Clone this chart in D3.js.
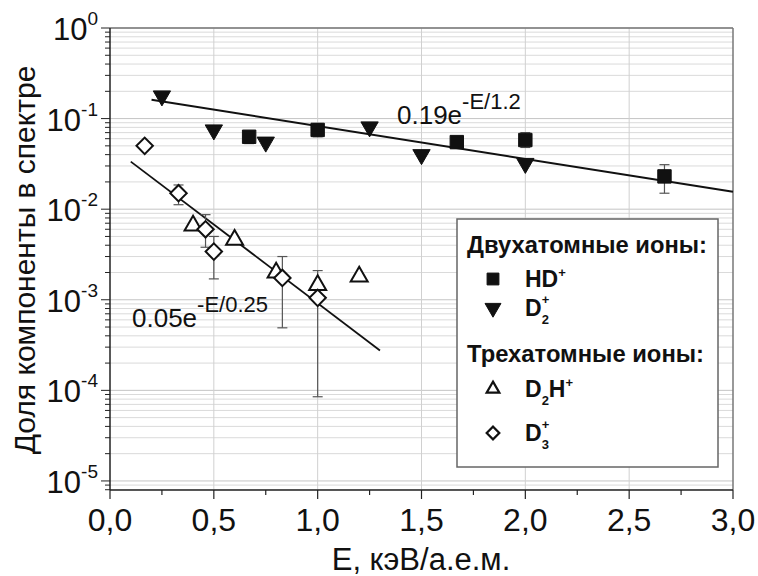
<!DOCTYPE html>
<html>
<head>
<meta charset="utf-8">
<script src="https://cdn.jsdelivr.net/npm/d3@7"></script>
<style>
  body { margin: 0; background: #fff; }
  svg { display: block; font-family: "Liberation Sans", Arial, sans-serif; }
</style>
</head>
<body>
<div id="chart"></div>
<script>
// HD+ (filled squares) with error bars
const hdE = [0.67, 1.0, 1.67, 2.0, 2.67];
const hdVal = [0.063, 0.075, 0.055, 0.058, 0.023];
const hdLo = [0.053, 0.063, 0.050, 0.048, 0.015];
const hdHi = [0.071, 0.088, 0.063, 0.070, 0.031];

// D2+ (filled down-triangles)
const d2E = [0.25, 0.5, 0.75, 1.25, 1.5, 2.0];
const d2Val = [0.178, 0.075, 0.055, 0.081, 0.040, 0.032];

// D2H+ (open up-triangles)
const d2hE = [0.4, 0.6, 0.8, 1.0, 1.2];
const d2hVal = [0.0066, 0.0046, 0.0020, 0.00145, 0.0018];

// D3+ (open diamonds) with error bars
const d3E = [0.167, 0.33, 0.46, 0.5, 0.83, 1.0];
const d3Val = [0.050, 0.015, 0.0060, 0.0034, 0.00174, 0.00105];
const d3Lo = [null, 0.0112, 0.0038, 0.0017, 0.00049, 0.000085];
const d3Hi = [null, 0.0185, 0.0087, 0.0050, 0.0030, 0.0021];

// fit lines (straight on log axis): endpoints
const fitDiE = [0.2, 3.0];
const fitDiVal = [0.161, 0.0156];
const fitTriE = [0.1, 1.3];
const fitTriVal = [0.0335, 0.000276];

const xTicks = [0, 0.5, 1.0, 1.5, 2.0, 2.5, 3.0];
const xMinor = [0.25, 0.75, 1.25, 1.75, 2.25, 2.75];
const yTickExp = [0, -1, -2, -3, -4, -5];

const W = 758, H = 576;
const margin = { top: 28, right: 25, bottom: 86, left: 110 };
const innerW = W - margin.left - margin.right;
const innerH = H - margin.top - margin.bottom;

const svg = d3.select("#chart").append("svg").attr("width", W).attr("height", H);
const g = svg.append("g").attr("transform", `translate(${margin.left},${margin.top})`);

const x = d3.scaleLinear().domain([0, 3]).range([0, innerW]);
const y = d3.scaleLog().domain([Math.pow(10, -5.1), 1]).range([innerH, 0]);

const isMajor = (d) => Math.abs(Math.log10(d) - Math.round(Math.log10(d))) < 1e-9;

// grid
const logTicks = y.ticks().filter((d) => d <= 1);
g.append("g").selectAll("line").data(logTicks).enter().append("line")
  .attr("x1", 0).attr("x2", innerW)
  .attr("y1", (d) => y(d)).attr("y2", (d) => y(d))
  .attr("stroke", (d) => (isMajor(d) ? "#c4c4c4" : "#dadada"))
  .attr("stroke-width", 1);
g.append("g").selectAll("line").data(xTicks.slice(1, -1)).enter().append("line")
  .attr("x1", (d) => x(d)).attr("x2", (d) => x(d))
  .attr("y1", 0).attr("y2", innerH)
  .attr("stroke", "#d0d0d0").attr("stroke-width", 1);

// frame (top/right grey)
g.append("line").attr("x1", 0).attr("x2", innerW).attr("y1", 0).attr("y2", 0)
  .attr("stroke", "#777").attr("stroke-width", 1.5);
g.append("line").attr("x1", innerW).attr("x2", innerW).attr("y1", 0).attr("y2", innerH)
  .attr("stroke", "#777").attr("stroke-width", 1.5);

// axes
const ax = g.append("g").attr("stroke", "#222");
ax.append("line").attr("x1", 0).attr("x2", innerW).attr("y1", innerH).attr("y2", innerH).attr("stroke-width", 1.5);
ax.append("line").attr("x1", 0).attr("x2", 0).attr("y1", 0).attr("y2", innerH).attr("stroke-width", 1.5);
ax.selectAll("line.xt").data(xTicks).enter().append("line").attr("class", "xt")
  .attr("x1", (d) => x(d)).attr("x2", (d) => x(d))
  .attr("y1", innerH).attr("y2", innerH + 9).attr("stroke-width", 1.2);
ax.selectAll("line.xm").data(xMinor).enter().append("line").attr("class", "xm")
  .attr("x1", (d) => x(d)).attr("x2", (d) => x(d))
  .attr("y1", innerH).attr("y2", innerH + 5).attr("stroke-width", 1.2);
ax.selectAll("line.yt").data(logTicks).enter().append("line").attr("class", "yt")
  .attr("x1", (d) => (isMajor(d) ? -9 : -5)).attr("x2", 0)
  .attr("y1", (d) => y(d)).attr("y2", (d) => y(d)).attr("stroke-width", 1);

// tick labels
g.selectAll("text.xl").data(xTicks).enter().append("text").attr("class", "xl")
  .attr("x", (d) => x(d)).attr("y", innerH + 41)
  .attr("text-anchor", "middle").attr("font-size", 32).attr("fill", "#111")
  .text((d) => d.toFixed(1).replace(".", ","));

const yl = g.selectAll("text.yl").data(yTickExp).enter().append("text").attr("class", "yl")
  .attr("x", -12).attr("y", (d) => y(Math.pow(10, d)) + 12)
  .attr("text-anchor", "end").attr("fill", "#111");
yl.append("tspan").attr("font-size", 31).text("10");
yl.append("tspan").attr("font-size", 19).attr("dy", -15).text((d) => String(d));

// axis titles
svg.append("text").attr("x", 421).attr("y", 570).attr("text-anchor", "middle")
  .attr("font-size", 31).attr("fill", "#111").text("E, кэВ/а.е.м.");
svg.append("text").attr("transform", "translate(35,260) rotate(-90)").attr("text-anchor", "middle")
  .attr("font-size", 30).attr("fill", "#111").text("Доля компоненты в спектре");

// fit lines
const line = d3.line().x((d) => x(d[0])).y((d) => y(d[1]));
g.append("path").attr("d", line(d3.zip(fitDiE, fitDiVal)))
  .attr("fill", "none").attr("stroke", "#111").attr("stroke-width", 2);
g.append("path").attr("d", line(d3.zip(fitTriE, fitTriVal)))
  .attr("fill", "none").attr("stroke", "#111").attr("stroke-width", 1.8);

// fit labels
function fitLabel(px, py, main, sup) {
  const t = g.append("text").attr("x", px).attr("y", py).attr("fill", "#111");
  t.append("tspan").attr("font-size", 26).text(main);
  t.append("tspan").attr("font-size", 22).attr("dy", -15).text(sup);
}
fitLabel(x(1.382), y(0.19) + 31, "0.19e", "-E/1.2");
fitLabel(x(0.106), y(0.00107) + 30, "0.05e", "-E/0.25");

// error bars
function errBars(es, lo, hi) {
  const eb = g.append("g").attr("stroke", "#555").attr("stroke-width", 1.2);
  es.forEach((e, i) => {
    if (lo[i] == null) return;
    const cx = x(e);
    eb.append("line").attr("x1", cx).attr("x2", cx).attr("y1", y(lo[i])).attr("y2", y(hi[i]));
    eb.append("line").attr("x1", cx - 5).attr("x2", cx + 5).attr("y1", y(lo[i])).attr("y2", y(lo[i]));
    eb.append("line").attr("x1", cx - 5).attr("x2", cx + 5).attr("y1", y(hi[i])).attr("y2", y(hi[i]));
  });
}
errBars(hdE, hdLo, hdHi);
errBars(d3E, d3Lo, d3Hi);

// markers
const sym = {
  square: d3.symbol().type(d3.symbolSquare).size(180)(),
  down: d3.symbol().type(d3.symbolTriangle).size(130)(),
  up: d3.symbol().type(d3.symbolTriangle).size(125)(),
  diamond: d3.symbol().type(d3.symbolSquare).size(135)(),
};
function points(es, vals, shape, filled, rot) {
  g.append("g").selectAll("path").data(d3.zip(es, vals)).enter().append("path")
    .attr("d", sym[shape])
    .attr("transform", (d) => `translate(${x(d[0])},${y(d[1])}) rotate(${rot})`)
    .attr("fill", filled ? "#111" : "#fff")
    .attr("stroke", "#111").attr("stroke-width", filled ? 1 : 2);
}
points(d2hE, d2hVal, "up", false, 0);
points(d3E, d3Val, "diamond", false, 45);
points(hdE, hdVal, "square", true, 0);
points(d2E, d2Val, "down", true, 180);

// legend
const lg = svg.append("g");
lg.append("rect").attr("x", 457).attr("y", 219).attr("width", 261).attr("height", 248)
  .attr("fill", "#fff").attr("stroke", "#666").attr("stroke-width", 1.5);
const legendHeads = [
  { label: "Двухатомные ионы:", y: 253 },
  { label: "Трехатомные ионы:", y: 362 },
];
lg.selectAll("text.head").data(legendHeads).enter().append("text").attr("class", "head")
  .attr("x", 467).attr("y", (d) => d.y).attr("font-size", 23).attr("font-weight", "bold")
  .attr("textLength", (d, i) => (i === 0 ? 240 : 237)).attr("lengthAdjust", "spacingAndGlyphs")
  .attr("fill", "#111").text((d) => d.label);

const legendItems = [
  { base: "HD", sub: "", sup: "+", shape: "square", filled: true, rot: 0, size: 140, y: 279 },
  { base: "D", sub: "2", sup: "+", shape: "down", filled: true, rot: 180, size: 110, y: 308 },
  { base: "D", sub: "2", sup: "+", mid: "H", shape: "up", filled: false, rot: 0, size: 70, y: 389 },
  { base: "D", sub: "3", sup: "+", shape: "diamond", filled: false, rot: 45, size: 80, y: 433 },
];
legendItems.forEach((it) => {
  lg.append("path")
    .attr("d", d3.symbol().type(it.shape === "square" || it.shape === "diamond" ? d3.symbolSquare : d3.symbolTriangle).size(it.size)())
    .attr("transform", `translate(493,${it.y}) rotate(${it.rot})`)
    .attr("fill", it.filled ? "#111" : "#fff")
    .attr("stroke", "#111").attr("stroke-width", it.filled ? 1 : 2.2);
  const t = lg.append("text").attr("x", 525).attr("y", it.y + 8)
    .attr("font-size", 23).attr("font-weight", "bold").attr("fill", "#111");
  t.append("tspan").text(it.base);
  if (it.sub && it.mid) {
    t.append("tspan").attr("font-size", 13).attr("dy", 8).text(it.sub);
    t.append("tspan").attr("dy", -8).text(it.mid);
    t.append("tspan").attr("font-size", 13).attr("dy", -10).text(it.sup);
  } else if (it.sub) {
    t.append("tspan").attr("font-size", 13).attr("dy", 8).text(it.sub);
    t.append("tspan").attr("font-size", 13).attr("dx", -7).attr("dy", -20).text(it.sup);
  } else {
    t.append("tspan").attr("font-size", 13).attr("dy", -10).text(it.sup);
  }
});
</script>
</body>
</html>
